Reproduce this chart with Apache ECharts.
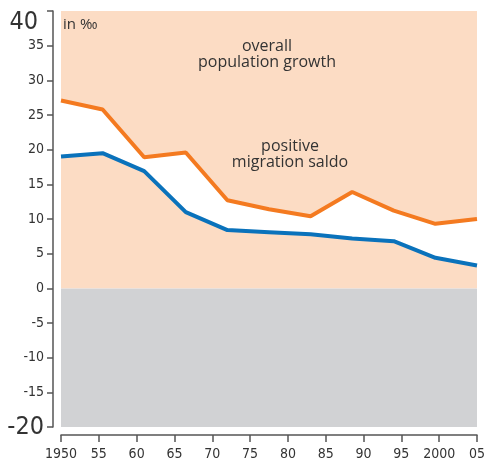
<!DOCTYPE html>
<html>
<head>
<meta charset="utf-8">
<script src="https://cdn.jsdelivr.net/npm/echarts@6/dist/echarts.min.js"></script>
<style>
  html, body { margin: 0; padding: 0; background: #fff; }
  #chart { width: 488px; height: 462px; }
</style>
</head>
<body>
<div id="chart"></div>
<script>
// data points (evenly spaced, every 5.5 years)
const years = [1950, 1955.5, 1961, 1966.5, 1972, 1977.5, 1983, 1988.5, 1994, 1999.5, 2005];
const overallGrowth = [27.1, 25.8, 18.9, 19.6, 12.7, 11.4, 10.4, 13.9, 11.2, 9.3, 10.0];
const migrationBase = [19.0, 19.5, 16.9, 11.0, 8.4, 8.1, 7.8, 7.2, 6.8, 4.4, 3.3];
const yTicks = [-20, -15, -10, -5, 0, 5, 10, 15, 20, 25, 30, 35, 40];
const xTickLabels = ['1950', '55', '60', '65', '70', '75', '80', '85', '90', '95', '2000', '05'];

const peach = '#fcdcc4';
const grey = '#d1d2d4';
const orange = '#f47a20';
const blue = '#0a72bb';
const textCol = '#333333';
const condensed = '"DejaVu Sans Condensed", sans-serif';
const humanist = '"Open Sans", sans-serif';

const chart = echarts.init(document.getElementById('chart'));

const pairs = (vals) => years.map((y, i) => [y, vals[i]]);

const txt = (text, x, y) => ({
  type: 'text', x: x, y: y, z: 100,
  style: { text: text, fill: textCol, fontSize: 16, fontFamily: humanist, align: 'center', verticalAlign: 'middle' }
});

const option = {
  animation: false,
  grid: { left: 61, right: 11, top: 11, bottom: 35 },
  xAxis: {
    type: 'value',
    min: 1950,
    max: 2005,
    interval: 5,
    offset: 8,
    axisLine: { show: true, onZero: false, lineStyle: { color: '#555', width: 1.5 } },
    axisTick: { show: true, length: 7, lineStyle: { color: '#555', width: 1.5 } },
    splitLine: { show: false },
    axisLabel: {
      margin: 12,
      color: textCol,
      fontFamily: condensed,
      fontSize: 14,
      formatter: (v) => xTickLabels[Math.round((v - 1950) / 5)]
    }
  },
  yAxis: {
    type: 'value',
    min: yTicks[0],
    max: yTicks[yTicks.length - 1],
    interval: 5,
    offset: 8,
    axisLine: { show: true, onZero: false, lineStyle: { color: '#555', width: 1.5 } },
    axisTick: { show: true, length: 6, lineStyle: { color: '#555', width: 1.5 } },
    splitLine: { show: false },
    axisLabel: {
      margin: 9,
      color: textCol,
      fontFamily: condensed,
      fontSize: 14,
      formatter: (v) => {
        if (v === 40) return '{top|' + v + '}';
        if (v === -20) return '{big|' + v + '}';
        return String(v);
      },
      rich: {
        top: { fontSize: 25, fontFamily: condensed, color: textCol, padding: [22, 6, 0, 0] },
        big: { fontSize: 25, fontFamily: condensed, color: textCol }
      }
    }
  },
  series: [
    {
      name: 'bg',
      type: 'line',
      data: [],
      z: 1,
      silent: true,
      markArea: {
        silent: true,
        data: [
          [{ yAxis: 0, itemStyle: { color: peach } }, { yAxis: 40 }],
          [{ yAxis: -20, itemStyle: { color: grey } }, { yAxis: 0 }]
        ]
      }
    },
    {
      name: 'overall population growth',
      type: 'line',
      data: pairs(overallGrowth),
      z: 2,
      showSymbol: false,
      symbol: 'none',
      lineStyle: { color: orange, width: 4 },
      areaStyle: { color: '#ffffff', opacity: 1 }
    },
    {
      name: 'natural growth',
      type: 'line',
      data: pairs(migrationBase),
      z: 3,
      showSymbol: false,
      symbol: 'none',
      lineStyle: { color: blue, width: 4 },
      areaStyle: { color: peach, opacity: 1 }
    }
  ],
  graphic: [
    {
      type: 'text', x: 63, y: 25, z: 100,
      style: { text: 'in ‰', fill: textCol, fontSize: 15, fontFamily: humanist, align: 'left', verticalAlign: 'middle' }
    },
    txt('overall', 267, 46),
    txt('population growth', 267, 62),
    txt('positive', 290, 146),
    txt('migration saldo', 290, 162)
  ]
};

chart.setOption(option);
</script>
</body>
</html>
